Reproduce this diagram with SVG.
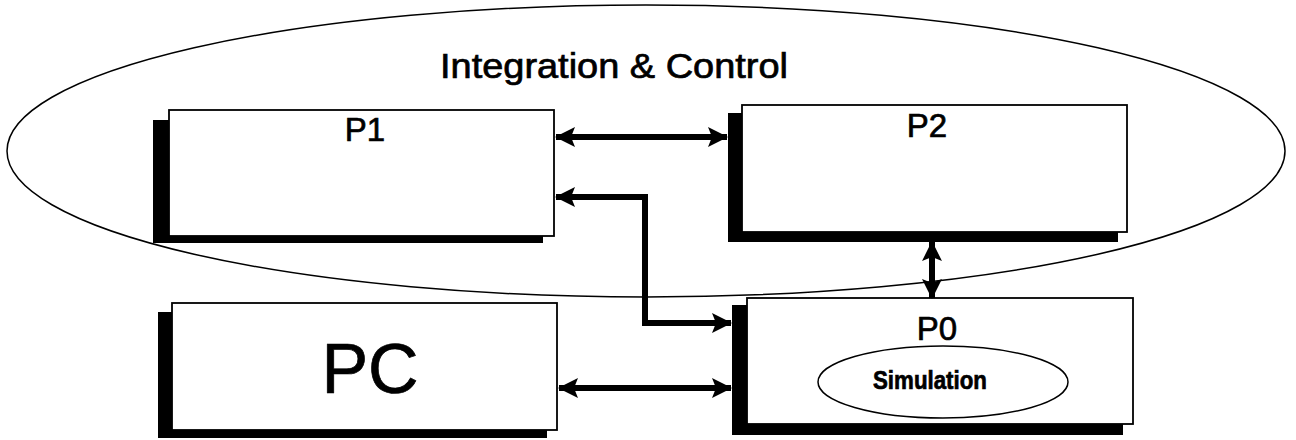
<svg xmlns="http://www.w3.org/2000/svg" width="1296" height="440" viewBox="0 0 1296 440">
<style>
  .box{fill:#fff;stroke:#000;stroke-width:1.8}
  .shadow{fill:#000}
  .lbl{font-family:"Liberation Sans",Arial,sans-serif;fill:#000;stroke:#000;stroke-width:0.7;text-anchor:middle}
  .conn{fill:none;stroke:#000;stroke-width:6}
  .oval{fill:none;stroke:#000;stroke-width:1.5}
</style>
<defs>
  <marker id="ah" markerUnits="userSpaceOnUse" markerWidth="20" markerHeight="20" viewBox="0 0 20 20" refX="19" refY="10" orient="auto-start-reverse">
    <path d="M0,0 L20,10 L0,20 L4,10 Z" fill="#000"/>
  </marker>
</defs>
<rect width="1296" height="440" fill="#fff"/>
<g id="integration-control">
  <ellipse class="oval" cx="646" cy="151" rx="639" ry="146"/>
  <text class="lbl" x="614" y="78" font-size="35" textLength="348" lengthAdjust="spacingAndGlyphs">Integration &amp; Control</text>
</g>
<g id="P1">
  <rect class="shadow" x="153" y="120" width="390" height="123"/>
  <rect class="box" x="169" y="110" width="385" height="126"/>
  <text class="lbl" x="365" y="141" font-size="33">P1</text>
</g>
<g id="P2">
  <rect class="shadow" x="728" y="113" width="390" height="129"/>
  <rect class="box" x="742" y="105" width="385" height="127"/>
  <text class="lbl" x="927" y="137" font-size="33">P2</text>
</g>
<g id="PC">
  <rect class="shadow" x="158" y="312" width="389" height="126"/>
  <rect class="box" x="172" y="303" width="385" height="127"/>
  <text class="lbl" x="370" y="393" font-size="70" stroke-width="1">PC</text>
</g>
<g id="P0">
  <rect class="shadow" x="732" y="305" width="391" height="130"/>
  <rect class="box" x="747" y="298" width="386" height="126"/>
  <text class="lbl" x="937" y="340" font-size="33">P0</text>
  <ellipse class="oval" cx="943" cy="382" rx="125" ry="36" stroke-width="1.2"/>
  <text class="lbl" x="930" y="389" font-size="26" font-weight="bold" stroke-width="0.3" textLength="114" lengthAdjust="spacingAndGlyphs">Simulation</text>
</g>
<g id="connectors">
  <line class="conn" x1="556" y1="137" x2="727" y2="137" marker-start="url(#ah)" marker-end="url(#ah)"/>
  <polyline class="conn" points="556,197 645,197 645,323 731,323" marker-start="url(#ah)" marker-end="url(#ah)"/>
  <line class="conn" x1="559" y1="388" x2="731" y2="388" marker-start="url(#ah)" marker-end="url(#ah)"/>
  <line class="conn" x1="932" y1="242" x2="932" y2="298" marker-start="url(#ah)" marker-end="url(#ah)"/>
</g>
</svg>
